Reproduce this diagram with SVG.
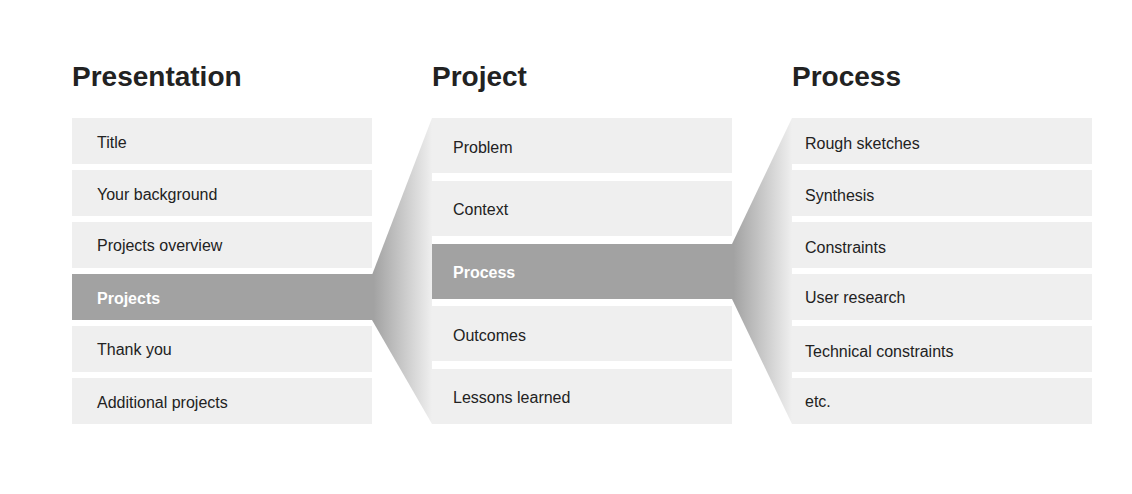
<svg xmlns="http://www.w3.org/2000/svg" width="1132" height="494" viewBox="0 0 1132 494">
<style>
.t{font-family:"Liberation Sans",Arial,sans-serif;font-weight:bold;font-size:28px;fill:#222}
.b{fill:#efefef}
.s{fill:#a2a2a2}
.l{font-family:"Liberation Sans",Arial,sans-serif;font-size:16px;fill:#222}
.w{font-family:"Liberation Sans",Arial,sans-serif;font-size:16px;fill:#fff;font-weight:bold}
</style>
<defs>
<linearGradient id="g" x1="0" y1="0" x2="1" y2="0">
<stop offset="0" stop-color="#a0a0a0"/><stop offset="1" stop-color="#efefef"/>
</linearGradient>
</defs>
<rect width="1132" height="494" fill="#fff"/>
<g id="connectors">
<polygon points="372,275 432,118 432,424 372,320" fill="url(#g)"/>
<polygon points="732,244 792,118 792,424 732,299" fill="url(#g)"/>
</g>
<g id="titles">
<text class="t" x="72" y="86">Presentation</text>
<text class="t" x="432" y="86">Project</text>
<text class="t" x="792" y="86">Process</text>
</g>
<g id="presentation">
<g id="p1"><rect class="b" x="72" y="118" width="300" height="46"/><text class="l" x="97" y="148">Title</text></g>
<g id="p2"><rect class="b" x="72" y="170" width="300" height="46"/><text class="l" x="97" y="200">Your background</text></g>
<g id="p3"><rect class="b" x="72" y="222" width="300" height="46"/><text class="l" x="97" y="251">Projects overview</text></g>
<g id="p4"><rect class="s" x="72" y="274" width="301" height="46"/><text class="w" x="97" y="304">Projects</text></g>
<g id="p5"><rect class="b" x="72" y="326" width="300" height="46"/><text class="l" x="97" y="355">Thank you</text></g>
<g id="p6"><rect class="b" x="72" y="378" width="300" height="46"/><text class="l" x="97" y="408">Additional projects</text></g>
</g>
<g id="project">
<g id="j1"><rect class="b" x="432" y="118" width="300" height="55"/><text class="l" x="453" y="153">Problem</text></g>
<g id="j2"><rect class="b" x="432" y="181" width="300" height="55"/><text class="l" x="453" y="215">Context</text></g>
<g id="j3"><rect class="s" x="432" y="244" width="301" height="55"/><text class="w" x="453" y="278">Process</text></g>
<g id="j4"><rect class="b" x="432" y="306" width="300" height="55"/><text class="l" x="453" y="341">Outcomes</text></g>
<g id="j5"><rect class="b" x="432" y="369" width="300" height="55"/><text class="l" x="453" y="403">Lessons learned</text></g>
</g>
<g id="process">
<g id="r1"><rect class="b" x="792" y="118" width="300" height="46"/><text class="l" x="805" y="149">Rough sketches</text></g>
<g id="r2"><rect class="b" x="792" y="170" width="300" height="46"/><text class="l" x="805" y="201">Synthesis</text></g>
<g id="r3"><rect class="b" x="792" y="222" width="300" height="46"/><text class="l" x="805" y="253">Constraints</text></g>
<g id="r4"><rect class="b" x="792" y="274" width="300" height="46"/><text class="l" x="805" y="303">User research</text></g>
<g id="r5"><rect class="b" x="792" y="326" width="300" height="46"/><text class="l" x="805" y="357">Technical constraints</text></g>
<g id="r6"><rect class="b" x="792" y="378" width="300" height="46"/><text class="l" x="805" y="407">etc.</text></g>
</g>
</svg>
